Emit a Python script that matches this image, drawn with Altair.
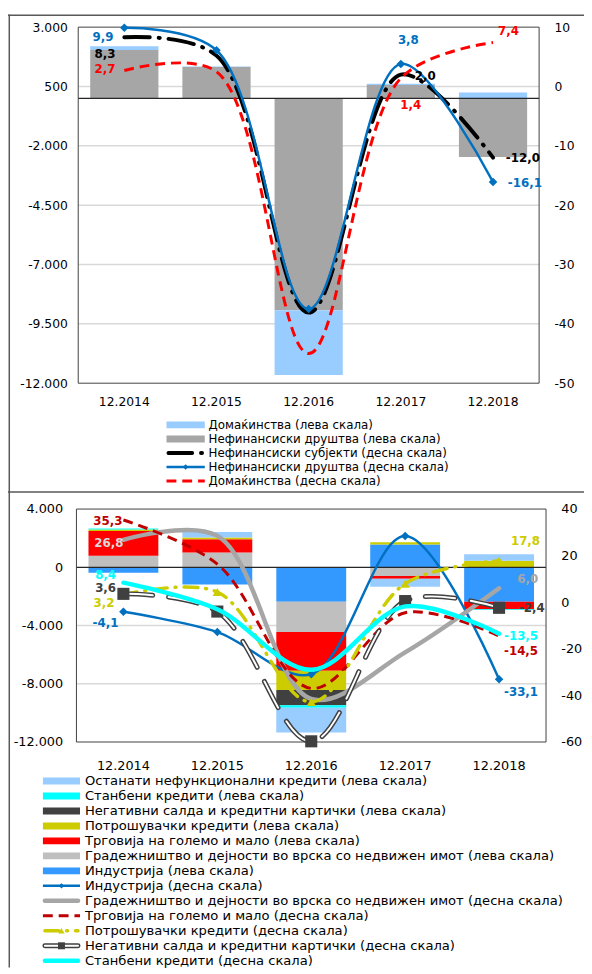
import altair as alt
import pandas as pd

FONT = "DejaVu Sans"
W, H = 584, 966

cats = ["12.2014", "12.2015", "12.2016", "12.2017", "12.2018"]

# ---------------- Top panel ----------------
# bars, millions of denars (left scale)
hh_bar = [166, 20, -2726, 54, 245]            # Домаќинства
nfc_bar = [2032, 1325, -8925, 565, -2468]     # Нефинансиски друштва
# lines, percent (right scale)
nfs_pct = [8.3, 5.2, -38.1, 2.0, -12.0]       # Нефинансиски субјекти
nfc_pct = [9.9, 6.1, -37.5, 3.8, -16.1]       # Нефинансиски друштва
hh_pct = [2.7, 2.5, -45.0, 1.4, 7.4]          # Домаќинства
top_left_ticks = [3000, 500, -2000, -4500, -7000, -9500, -12000]
top_grid = [500, -2000, -4500, -7000, -9500]
top_right_ticks = [10, 0, -10, -20, -30, -40, -50]
top_legend = [
    "Домаќинства (лева скала)",
    "Нефинансиски друштва (лева скала)",
    "Нефинансиски субјекти (десна скала)",
    "Нефинансиски друштва (десна скала)",
    "Домаќинства (десна скала)",
]

# ---------------- Bottom panel ----------------
ind_bar = [-370, -1190, -2364, 1558, -2364]
con_bar = [793, 1023, -2080, -600, 0]
trd_bar = [1694, 901, -2662, -180, -522]
cns_bar = [100, 115, -1314, 158, 452]
neg_bar = [0, 0, -1057, 0, 0]
hou_bar = [80, 0, -163, 0, -50]
oth_bar = [0, 380, -1714, -562, 452]
ind_pct = [-4.1, -12.8, -30.9, 28.4, -33.1]
con_pct = [26.8, 28.5, -41.5, -21.5, 6.0]
trd_pct = [35.3, 16.4, -37.0, -4.5, -14.5]
cns_pct = [3.2, 4.4, -42.8, 8.0, 17.8]
neg_pct = [3.6, -4.0, -59.7, 0.5, -2.4]
hou_pct = [8.4, -3.0, -29.0, -1.8, -13.5]
bot_left_ticks = [4000, 0, -4000, -8000, -12000]
bot_grid = [-4000, -8000]
bot_right_ticks = [40, 20, 0, -20, -40, -60]
bot_legend = [
    "Останати нефункционални кредити (лева скала)",
    "Станбени кредити (лева скала)",
    "Негативни салда и кредитни картички (лева скала)",
    "Потрошувачки кредити (лева скала)",
    "Трговија на големо и мало (лева скала)",
    "Градежништво и дејности во врска со недвижен имот (лева скала)",
    "Индустрија (лева скала)",
    "Индустрија (десна скала)",
    "Градежништво и дејности во врска со недвижен имот (десна скала)",
    "Трговија на големо и мало (десна скала)",
    "Потрошувачки кредити (десна скала)",
    "Негативни салда и кредитни картички (десна скала)",
    "Станбени кредити (десна скала)",
]

# ---------------- layout (chart pixels) ----------------
TX0, TX1, TY0, TY1 = 71.2, 538.5, 12.7, 373.7
BX0, BX1, BY0, BY1 = 69.4, 545.5, 501.3, 737.5

xs_top = alt.Scale(domain=cats, range=[TX0, TX1], paddingInner=0.26, paddingOuter=0.13)
yl_top = alt.Scale(domain=[-12000, 3000], range=[TY1, TY0], nice=False, zero=False)
yr_top = alt.Scale(domain=[-50, 10], range=[TY1, TY0], nice=False, zero=False)
xs_bot = alt.Scale(domain=cats, range=[BX0, BX1], paddingInner=0.256, paddingOuter=0.128)
yl_bot = alt.Scale(domain=[-12000, 4000], range=[BY1, BY0], nice=False, zero=False)
yr_bot = alt.Scale(domain=[-60, 40], range=[BY1, BY0], nice=False, zero=False)

NUM_EXPR = "replace(replace(format(datum.value, ',.0f'), ',', '.'), '\u2212', '-')"


def yaxis(orient, offset, values, pad, size):
    return alt.Axis(orient=orient, offset=offset, values=values, labelExpr=NUM_EXPR,
                    domain=False, ticks=False, grid=False, labelPadding=pad,
                    labelFont=FONT, labelFontSize=size, labelColor="#000000",
                    labelFlush=False, labelOverlap=False, title=None)


def xaxis(offset, pad, size):
    return alt.Axis(orient="bottom", offset=offset, domain=False, ticks=False, grid=False,
                    labelPadding=pad, labelBaseline="middle", labelFont=FONT,
                    labelFontSize=size, labelColor="#000000", labelAngle=0, title=None)


def one():
    return pd.DataFrame({"a": [0]})


def hrule(x0, x1, y0, color, width):
    return alt.Chart(one()).mark_rule(color=color, strokeWidth=width).encode(
        x=alt.value(x0), x2=alt.value(x1), y=alt.value(y0))


def vrule(x0, y0, y1, color, width):
    return alt.Chart(one()).mark_rule(color=color, strokeWidth=width).encode(
        x=alt.value(x0), y=alt.value(y0), y2=alt.value(y1))


def frame(x0, x1, y0, y1):
    return alt.Chart(one()).mark_rect(fillOpacity=0, stroke="#404040", strokeWidth=1).encode(
        x=alt.value(x0), x2=alt.value(x1), y=alt.value(y0), y2=alt.value(y1))


def gridlines(vals, ys, x0, x1, color="#D9D9D9", width=1.5):
    return alt.Chart(pd.DataFrame({"v": vals})).mark_rule(color=color, strokeWidth=width).encode(
        x=alt.value(x0), x2=alt.value(x1), y=alt.Y("v:Q", scale=ys, axis=None))


def stacked(names, series, colors, xs, ys, xax, yax):
    rows = []
    for o, (n, vals) in enumerate(zip(names, series)):
        for c, v in zip(cats, vals):
            rows.append({"cat": c, "v": v, "s": n, "o": o})
    df = pd.DataFrame(rows)
    return alt.Chart(df).mark_bar().encode(
        x=alt.X("cat:N", scale=xs, axis=xax),
        y=alt.Y("v:Q", scale=ys, axis=yax, stack="zero"),
        color=alt.Color("s:N", scale=alt.Scale(domain=names, range=colors), legend=None),
        order=alt.Order("o:Q", sort="ascending"))


def pct_line(values, xs, ys, color, width, dash=None, cap="butt", yax=None):
    df = pd.DataFrame({"cat": cats, "v": values})
    kw = dict(color=color, strokeWidth=width, interpolate="catmull-rom", strokeCap=cap,
              strokeJoin="round")
    if dash:
        kw["strokeDash"] = dash
    return alt.Chart(df).mark_line(**kw).encode(
        x=alt.X("cat:N", scale=xs, axis=None),
        y=alt.Y("v:Q", scale=ys, axis=yax))


def pct_points(values, xs, ys, shape, size, color):
    df = pd.DataFrame({"cat": cats, "v": values})
    return alt.Chart(df).mark_point(shape=shape, size=size, filled=True, color=color, opacity=1).encode(
        x=alt.X("cat:N", scale=xs, axis=None),
        y=alt.Y("v:Q", scale=ys, axis=None))


def lbl(values, i, xs, ys, color, dx, dy, align):
    v = values[i]
    t = f"{v:.1f}".replace(".", ",")
    df = pd.DataFrame({"cat": [cats[i]], "v": [v], "t": [t]})
    return alt.Chart(df).mark_text(color=color, dx=dx, dy=dy, align=align, baseline="middle",
                                   font=FONT, fontSize=12, fontWeight="bold").encode(
        x=alt.X("cat:N", scale=xs, axis=None),
        y=alt.Y("v:Q", scale=ys, axis=None),
        text="t:N")


def leg_rule(row, ys, x0, x1, color, width, dash=None, cap="butt"):
    kw = dict(color=color, strokeWidth=width, strokeCap=cap)
    if dash:
        kw["strokeDash"] = dash
    return alt.Chart(pd.DataFrame({"row": [row]})).mark_rule(**kw).encode(
        x=alt.value(x0), x2=alt.value(x1), y=alt.Y("row:Q", scale=ys, axis=None))


def leg_point(row, ys, x, shape, size, color):
    return alt.Chart(pd.DataFrame({"row": [row]})).mark_point(
        shape=shape, size=size, filled=True, color=color, opacity=1).encode(
        x=alt.value(x), y=alt.Y("row:Q", scale=ys, axis=None))


def leg_text(names, ys, x, size):
    df = pd.DataFrame({"row": list(range(len(names))), "label": names})
    return alt.Chart(df).mark_text(align="left", baseline="middle", font=FONT, fontSize=size,
                                   color="#000000").encode(
        x=alt.value(x), y=alt.Y("row:Q", scale=ys, axis=None), text="label:N")


layers = []

# outer frame of the two chart areas
layers += [
    hrule(0, W, 0.75, "#595959", 1.5),
    hrule(0, W, 484, "#595959", 1.5),
    vrule(1.3, 0, H, "#595959", 1.5),
]

# ======== TOP PANEL ========
layers.append(gridlines(top_grid, yl_top, TX0, TX1))
layers.append(stacked(
    ["Нефинансиски друштва", "Домаќинства"], [nfc_bar, hh_bar], ["#A6A6A6", "#99CCFF"],
    xs_top, yl_top, xaxis(-(H - TY1), 18.5, 12.5), yaxis("left", -TX0, top_left_ticks, 11, 12.5)))
layers.append(gridlines([0], yl_top, TX0, TX1, "#262626", 1.2))
layers.append(frame(TX0, TX1, TY0, TY1))
layers.append(pct_line(nfs_pct, xs_top, yr_top, "#000000", 4, [26, 9, 1, 9], "round",
                       yaxis("right", -(W - TX1), top_right_ticks, 15, 12.5)))
layers.append(pct_line(nfc_pct, xs_top, yr_top, "#0070C0", 2.5))
layers.append(pct_points(nfc_pct, xs_top, yr_top, "diamond", 75, "#0070C0"))
layers.append(pct_line(hh_pct, xs_top, yr_top, "#FF0000", 3, [10, 6]))
layers += [
    lbl(nfc_pct, 0, xs_top, yr_top, "#0070C0", -11, 9.5, "right"),
    lbl(nfs_pct, 0, xs_top, yr_top, "#000000", -9, 17, "right"),
    lbl(hh_pct, 0, xs_top, yr_top, "#FF0000", -9, -1, "right"),
    lbl(nfc_pct, 3, xs_top, yr_top, "#0070C0", -3, -24.5, "left"),
    lbl(nfs_pct, 3, xs_top, yr_top, "#000000", 14, 1, "left"),
    lbl(hh_pct, 3, xs_top, yr_top, "#FF0000", -0.5, 27, "left"),
    lbl(hh_pct, 4, xs_top, yr_top, "#FF0000", 5, -11.5, "left"),
    lbl(nfs_pct, 4, xs_top, yr_top, "#000000", 13, 0, "left"),
    lbl(nfc_pct, 4, xs_top, yr_top, "#0070C0", 15, 1.5, "left"),
]

# top legend
yleg_top = alt.Scale(domain=[0, 4], range=[416, 472.8])
LX0, LX1 = 160.7, 199.5
layers += [
    leg_rule(0, yleg_top, LX0, LX1, "#99CCFF", 7),
    leg_rule(1, yleg_top, LX0, LX1, "#A6A6A6", 7),
    leg_rule(2, yleg_top, LX0 + 2, LX1 - 2, "#000000", 4, [24, 9, 1, 9], "round"),
    leg_rule(3, yleg_top, LX0, LX1, "#0070C0", 2.5),
    leg_point(3, yleg_top, (LX0 + LX1) / 2, "diamond", 30, "#0070C0"),
    leg_rule(4, yleg_top, LX0, LX1, "#FF0000", 3, [10, 6]),
    leg_text(top_legend, yleg_top, 203.3, 12),
]

# ======== BOTTOM PANEL ========
layers.append(gridlines(bot_grid, yl_bot, BX0, BX1))
layers.append(stacked(
    ["Индустрија", "Градежништво", "Трговија", "Потрошувачки", "Негативни салда",
     "Станбени", "Останати"],
    [ind_bar, con_bar, trd_bar, cns_bar, neg_bar, hou_bar, oth_bar],
    ["#3399FF", "#BFBFBF", "#FF0000", "#CCCC00", "#404040", "#00FFFF", "#99CCFF"],
    xs_bot, yl_bot, xaxis(-(H - BY1), 23.5, 13), yaxis("left", -BX0, bot_left_ticks, 14, 13)))
layers.append(gridlines([0], yl_bot, BX0, BX1, "#262626", 1.2))
layers.append(frame(BX0, BX1, BY0, BY1))
layers.append(pct_line(ind_pct, xs_bot, yr_bot, "#0070C0", 2.5, None, "butt",
                       yaxis("right", -(W - BX1), bot_right_ticks, 15, 13)))
layers.append(pct_points(ind_pct, xs_bot, yr_bot, "diamond", 75, "#0070C0"))
layers.append(pct_line(con_pct, xs_bot, yr_bot, "#A6A6A6", 4.5, None, "round"))
layers.append(pct_line(trd_pct, xs_bot, yr_bot, "#C00000", 3, [10, 6]))
layers.append(pct_line(cns_pct, xs_bot, yr_bot, "#CCCC00", 3.5, [14, 8, 1, 8], "round"))
layers.append(pct_points(cns_pct, xs_bot, yr_bot, "triangle-up", 90, "#CCCC00"))
layers.append(pct_line(neg_pct, xs_bot, yr_bot, "#404040", 5, [30, 16], "round"))
layers.append(pct_line(neg_pct, xs_bot, yr_bot, "#FFFFFF", 2, [30, 16], "round"))
layers.append(pct_points(neg_pct, xs_bot, yr_bot, "square", 150, "#404040"))
layers.append(pct_line(hou_pct, xs_bot, yr_bot, "#00FFFF", 4.5, None, "round"))
layers += [
    lbl(trd_pct, 0, xs_bot, yr_bot, "#C00000", -1, 1.3, "right"),
    lbl(con_pct, 0, xs_bot, yr_bot, "#D9D9D9", 0, 2.8, "right"),
    lbl(hou_pct, 0, xs_bot, yr_bot, "#00FFFF", -7.4, -7.3, "right"),
    lbl(neg_pct, 0, xs_bot, yr_bot, "#404040", -7.4, -6, "right"),
    lbl(cns_pct, 0, xs_bot, yr_bot, "#CCCC00", -9, 8.8, "right"),
    lbl(ind_pct, 0, xs_bot, yr_bot, "#0070C0", -5, 11.5, "right"),
    lbl(cns_pct, 4, xs_bot, yr_bot, "#CCCC00", 12, -20, "left"),
    lbl(con_pct, 4, xs_bot, yr_bot, "#A6A6A6", 18.5, -9.6, "left"),
    lbl(neg_pct, 4, xs_bot, yr_bot, "#404040", 20, 0.5, "left"),
    lbl(hou_pct, 4, xs_bot, yr_bot, "#00FFFF", 5, 2.6, "left"),
    lbl(trd_pct, 4, xs_bot, yr_bot, "#C00000", 5, 15.3, "left"),
    lbl(ind_pct, 4, xs_bot, yr_bot, "#0070C0", 5, 13, "left"),
]

# bottom legend
yleg_bot = alt.Scale(domain=[0, 12], range=[777, 959.3])
MX0, MX1 = 35.4, 73.0
MC = (MX0 + MX1) / 2
layers += [
    leg_rule(0, yleg_bot, MX0, MX1, "#99CCFF", 7),
    leg_rule(1, yleg_bot, MX0, MX1, "#00FFFF", 7),
    leg_rule(2, yleg_bot, MX0, MX1, "#404040", 7),
    leg_rule(3, yleg_bot, MX0, MX1, "#CCCC00", 7),
    leg_rule(4, yleg_bot, MX0, MX1, "#FF0000", 7),
    leg_rule(5, yleg_bot, MX0, MX1, "#BFBFBF", 7),
    leg_rule(6, yleg_bot, MX0, MX1, "#3399FF", 7),
    leg_rule(7, yleg_bot, MX0, MX1, "#0070C0", 2.5),
    leg_point(7, yleg_bot, MC, "diamond", 30, "#0070C0"),
    leg_rule(8, yleg_bot, MX0 + 2, MX1 - 2, "#A6A6A6", 4.5, None, "round"),
    leg_rule(9, yleg_bot, MX0, MX1, "#C00000", 3, [10, 6]),
    leg_rule(10, yleg_bot, MX0 + 2, MX1 - 2, "#CCCC00", 3.5, [14, 8, 1, 8], "round"),
    leg_point(10, yleg_bot, MC, "triangle-up", 40, "#CCCC00"),
    leg_rule(11, yleg_bot, MX0 + 2, MX1 - 2, "#404040", 5, None, "round"),
    leg_rule(11, yleg_bot, MX0 + 2, MX1 - 2, "#FFFFFF", 2, None, "round"),
    leg_point(11, yleg_bot, MC, "square", 50, "#404040"),
    leg_rule(12, yleg_bot, MX0 + 2, MX1 - 2, "#00FFFF", 4.5, None, "round"),
    leg_text(bot_legend, yleg_bot, 78, 13.3),
]

chart = alt.layer(*layers).resolve_scale(
    x="independent", y="independent", color="independent"
).properties(
    width=W, height=H, autosize=alt.AutoSizeParams(type="none"), padding=0,
    background="#FFFFFF"
).configure_view(stroke=None)

chart.save("out.html", embed_options={"renderer": "svg", "actions": False})
